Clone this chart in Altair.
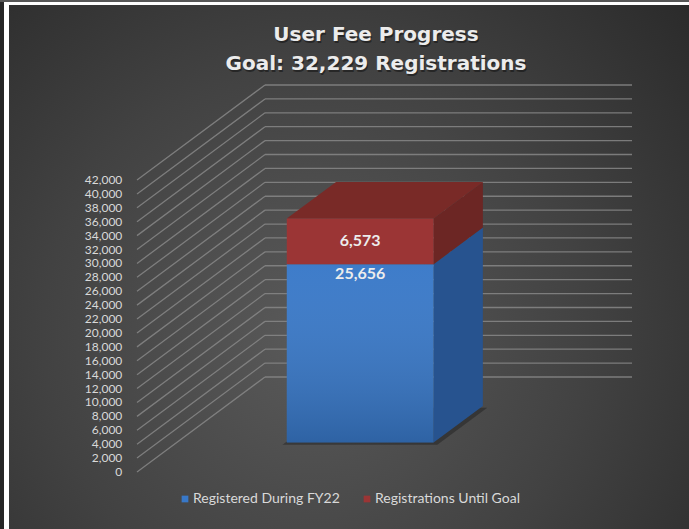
import altair as alt
import pandas as pd

# ---- chart data -------------------------------------------------------
series = ["Registered During FY22", "Registrations Until Goal"]
values = [25656, 6573]
front_colors = ["#3878c8", "#9b3535"]
side_colors = ["#27538f", "#6c2624"]
top_color = "#792a27"
tick_values = list(range(0, 42001, 2000))
title_lines = ["User Fee Progress", "Goal: 32,229 Registrations"]

# ---- 3D projection setup ---------------------------------------------
W, H = 689, 529
FRONT_X0 = 137          # px where the category slot starts on the front plane
CAT_PX = 367            # px width of the category slot
BASE_Y = 472            # px of the zero line on the front plane
PX_PER_UNIT = 292 / 42000
DEPTH_DX_PX = 128       # horizontal run of the floor depth
DEPTH_DY_PX = 95        # vertical rise of the floor depth

x_domain = [(0 - FRONT_X0) / CAT_PX, (W - FRONT_X0) / CAT_PX]
y_domain = [(BASE_Y - H) / PX_PER_UNIT, BASE_Y / PX_PER_UNIT]
DU = DEPTH_DX_PX / CAT_PX
DV = DEPTH_DY_PX / PX_PER_UNIT

U0, U1 = 0.30, 0.70     # bar extent inside the category slot
DF, DB = 0.31, 0.695    # bar front / back depth

FONT = "Lato"
TITLE_FONT = "DejaVu Sans"

xs = alt.Scale(domain=x_domain, nice=False, zero=False)
ys = alt.Scale(domain=y_domain, nice=False, zero=False)


def X(field="x"):
    return alt.X(f"{field}:Q", scale=xs, axis=None)


def Y(field="y"):
    return alt.Y(f"{field}:Q", scale=ys, axis=None)


# ---- background and frame ----------------------------------------------
one = pd.DataFrame({"k": [0]})

bg_gradient = alt.RadialGradient(
    gradient="radial", x1=0.45, y1=0.6, r1=0, x2=0.45, y2=0.6, r2=0.8,
    stops=[
        alt.GradientStop(offset=0, color="#5a5a5a"),
        alt.GradientStop(offset=0.5, color="#424242"),
        alt.GradientStop(offset=1, color="#262626"),
    ],
)


def box(x0, x1, y0, y1, **mark):
    return alt.Chart(one).mark_rect(**mark).encode(
        x=alt.value(x0), x2=alt.value(x1), y=alt.value(y0), y2=alt.value(y1)
    )


background = alt.layer(
    box(0, W, 0, H, color="#262626"),
    box(9, W, 5, H, fill=bg_gradient),
    box(0, W, 0, 2, color="#575757"),
    box(4, W, 2, 5, color="#ffffff"),
    box(4, 9, 2, H, color="#ffffff"),
)

# ---- gridlines (side wall diagonals + back wall) ------------------------
grid = pd.DataFrame({"t": tick_values})
grid["x_front"] = 0.0
grid["x_back"] = DU
grid["x_end"] = 1 + DU
grid["y_front"] = grid["t"]
grid["y_back"] = grid["t"] + DV
grid["label"] = grid["t"].map(lambda v: f"{v:,}")
grid["x_label"] = -0.04

grid_style = dict(color="#878787", strokeWidth=1.3, opacity=0.85)
diag = alt.Chart(grid).mark_rule(**grid_style).encode(
    x=X("x_front"), x2="x_back", y=Y("y_front"), y2="y_back"
)
backwall = alt.Chart(grid).mark_rule(**grid_style).encode(
    x=X("x_back"), x2="x_end", y=Y("y_back"), y2="y_back"
)
axis_labels = alt.Chart(grid).mark_text(
    align="right", baseline="middle", font=FONT, fontSize=12, color="#d9d9d9"
).encode(x=X("x_label"), y=Y("y_front"), text="label:N")

# ---- stacked 3D column --------------------------------------------------
segs = []
lo = 0
for s, v, fc, sc in zip(series, values, front_colors, side_colors):
    segs.append(dict(series=s, lo=lo, hi=lo + v, value=v, front=fc, side=sc))
    lo += v
total = lo

front = pd.DataFrame([
    dict(series=g["series"],
         x=U0 + DF * DU, x2=U1 + DF * DU,
         y=g["lo"] + DF * DV, y2=g["hi"] + DF * DV)
    for g in segs
])

side = pd.DataFrame([
    dict(series=g["series"], fill=g["side"],
         x=U1 + d * DU, y=g["lo"] + d * DV, y2=g["hi"] + d * DV)
    for g in segs for d in (DF, DB)
])

top = pd.DataFrame([
    dict(y=total + d * DV, x=U0 + d * DU, x2=U1 + d * DU) for d in (DF, DB)
])

# thin floor shadow just below the column
shadow = pd.DataFrame([
    dict(y=-250 + d * DV, x=U0 - 0.01 + d * DU, x2=U1 + 0.012 + d * DU)
    for d in (DF - 0.005, DB)
])

shadow_layer = alt.Chart(shadow).mark_area(
    orient="horizontal", color="#1c1c1c", opacity=0.45
).encode(y=Y("y"), x=X("x"), x2="x2")

side_layer = alt.Chart(side).mark_area(orient="vertical").encode(
    x=X("x"), y=Y("y"), y2="y2",
    color=alt.Color("fill:N", scale=None), detail="series:N",
)

top_layer = alt.Chart(top).mark_area(orient="horizontal", color=top_color).encode(
    y=Y("y"), x=X("x"), x2="x2"
)

front_layer = alt.Chart(front).mark_rect().encode(
    x=X("x"), x2="x2", y=Y("y"), y2="y2",
    color=alt.Color(
        "series:N",
        scale=alt.Scale(domain=series, range=front_colors),
        sort=series,
        legend=alt.Legend(
            title=None, orient="none", legendX=178, legendY=492,
            direction="horizontal", symbolType="square", symbolSize=45,
            symbolStrokeWidth=0, labelFont=FONT, labelFontSize=14,
            labelColor="#d9d9d9", columnPadding=20, labelOffset=1,
        ),
    ),
)

shade_gradient = alt.LinearGradient(
    gradient="linear", x1=0, y1=0, x2=0, y2=1,
    stops=[
        alt.GradientStop(offset=0, color="rgba(255,255,255,0.03)"),
        alt.GradientStop(offset=1, color="rgba(0,0,0,0.18)"),
    ],
)
shade_layer = alt.Chart(front.iloc[[0]]).mark_rect(fill=shade_gradient).encode(
    x=X("x"), x2="x2", y=Y("y"), y2="y2"
)

# ---- value labels -------------------------------------------------------
labels = pd.DataFrame([
    dict(text=f"{segs[0]['value']:,}", x=(U0 + U1) / 2 + DF * DU,
         y=segs[0]["hi"] + DF * DV, pos="top"),
    dict(text=f"{segs[1]['value']:,}", x=(U0 + U1) / 2 + DF * DU,
         y=(segs[1]["lo"] + segs[1]["hi"]) / 2 + DF * DV, pos="mid"),
])
label_style = dict(font=FONT, fontSize=16, fontWeight="bold", color="#ececec",
                   align="center")
blue_label = alt.Chart(labels[labels.pos == "top"]).mark_text(
    baseline="top", dy=2, **label_style
).encode(x=X("x"), y=Y("y"), text="text:N")
red_label = alt.Chart(labels[labels.pos == "mid"]).mark_text(
    baseline="middle", **label_style
).encode(x=X("x"), y=Y("y"), text="text:N")

# ---- title --------------------------------------------------------------
def title_text(line, ypos, dx, dy, color, opacity):
    return alt.Chart(pd.DataFrame({"text": [line]})).mark_text(
        font=TITLE_FONT, fontSize=20, fontWeight="bold", align="center",
        baseline="middle", color=color, opacity=opacity, dx=dx, dy=dy,
    ).encode(x=alt.value(376), y=alt.value(ypos), text="text:N")


titles = alt.layer(
    title_text(title_lines[0], 35, 1, 1.5, "#111111", 0.55),
    title_text(title_lines[1], 64, 1, 1.5, "#111111", 0.55),
    title_text(title_lines[0], 35, 0, 0, "#ececec", 1.0),
    title_text(title_lines[1], 64, 0, 0, "#ececec", 1.0),
)

chart = alt.layer(
    background, diag, backwall, axis_labels,
    shadow_layer, side_layer, top_layer, front_layer, shade_layer,
    blue_label, red_label, titles,
).properties(
    width=W, height=H, padding=0, autosize="none", background="#262626"
).configure_view(stroke=None)

chart.save("out.html", embed_options={"renderer": "svg", "actions": False})
